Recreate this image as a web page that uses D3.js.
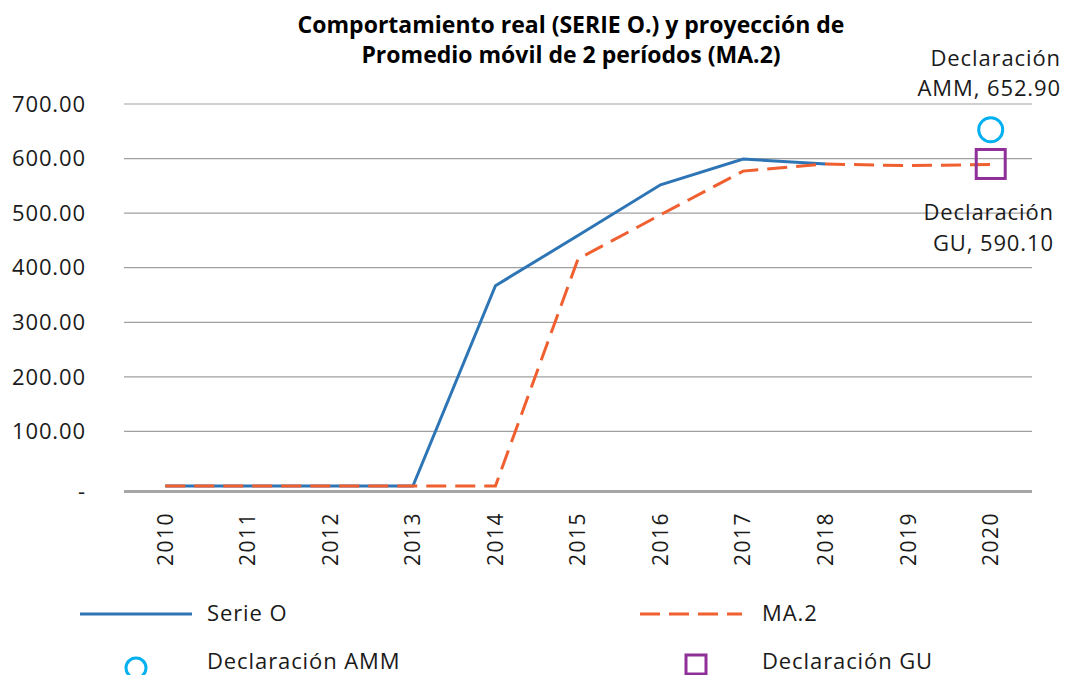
<!DOCTYPE html>
<html>
<head>
<meta charset="utf-8">
<script src="https://cdn.jsdelivr.net/npm/d3@7"></script>
<style>
  body { margin: 0; background: #fff; }
  svg { font-family: "Open Sans", "Noto Sans", sans-serif; }
</style>
</head>
<body>
<svg width="1065" height="675"></svg>
<script>
// data
const years = ["2010", "2011", "2012", "2013", "2014", "2015", "2016", "2017", "2018", "2019", "2020"];
const serieO = [0, 0, 0, 0, 367, 459, 552, 599, 590, null, null];
const ma2 = [0, 0, 0, 0, 0, 416, 497, 577, 590, 587, 589];
const yTicks = [0, 100, 200, 300, 400, 500, 600, 700];
const declAMM = { year: "2020", value: 652.90 };
const declGU = { year: "2020", value: 590.10 };

const blue = "#2E75B6", orange = "#F05F2F", cyan = "#00B0F0", purple = "#8F2F98";
const fs = "22px", ls = "0.9px";

const svg = d3.select("svg");

// scales
const x = d3.scaleBand().domain(years).range([124, 1032]);
const y = d3.scaleLinear().domain([0, 700]).range([486, 104]);
const cx = d => x(d) + x.bandwidth() / 2;

// title
svg.append("text")
    .attr("x", 571).attr("y", 33)
    .attr("text-anchor", "middle")
    .style("font-size", "23px").style("font-weight", "bold")
    .text("Comportamiento real (SERIE O.) y proyección de");
svg.append("text")
    .attr("x", 571).attr("y", 63)
    .attr("text-anchor", "middle")
    .style("font-size", "23px").style("font-weight", "bold")
    .text("Promedio móvil de 2 períodos (MA.2)");

// gridlines
svg.append("g")
    .selectAll("line")
    .data(yTicks.filter(d => d > 0))
  .enter().append("line")
    .attr("x1", 124).attr("x2", 1032)
    .attr("y1", d => y(d)).attr("y2", d => y(d))
    .attr("stroke", "#A0A0A0").attr("stroke-width", 1.2);

// x axis line (slightly below zero)
svg.append("line")
    .attr("x1", 124).attr("x2", 1032)
    .attr("y1", y(0) + 5.5).attr("y2", y(0) + 5.5)
    .attr("stroke", "#A6A6A6").attr("stroke-width", 3);

// y labels
svg.append("g")
    .selectAll("text")
    .data(yTicks)
  .enter().append("text")
    .attr("x", 86)
    .attr("y", d => d === 0 ? y(0) + 5 : y(d))
    .attr("dy", "0.35em")
    .attr("text-anchor", "end")
    .style("font-size", fs).style("letter-spacing", ls)
    .attr("fill", "#1a1a1a")
    .text(d => d === 0 ? "-" : d3.format(".2f")(d));

// x labels, rotated
svg.append("g")
    .selectAll("text")
    .data(years)
  .enter().append("text")
    .attr("transform", d => `translate(${cx(d)},512)rotate(-90)`)
    .attr("text-anchor", "end")
    .attr("dy", "0.35em")
    .style("font-size", "21px")
    .style("letter-spacing", "1.5px")
    .attr("fill", "#1a1a1a")
    .text(d => d);

// lines
const line = d3.line()
    .defined(d => d.v !== null)
    .x(d => cx(d.year))
    .y(d => y(d.v));

svg.append("path")
    .datum(years.map((yr, i) => ({ year: yr, v: serieO[i] })))
    .attr("d", line)
    .attr("fill", "none")
    .attr("stroke", blue).attr("stroke-width", 3);

svg.append("path")
    .datum(years.map((yr, i) => ({ year: yr, v: ma2[i] })))
    .attr("d", line)
    .attr("fill", "none")
    .attr("stroke", orange).attr("stroke-width", 3)
    .attr("stroke-dasharray", "20,9");

// declaration markers
svg.append("circle")
    .attr("cx", cx(declAMM.year)).attr("cy", y(declAMM.value))
    .attr("r", 12)
    .attr("fill", "none").attr("stroke", cyan).attr("stroke-width", 3);

svg.append("rect")
    .attr("x", cx(declGU.year) - 14.5).attr("y", y(declGU.value) - 14.5)
    .attr("width", 29).attr("height", 29)
    .attr("fill", "none").attr("stroke", purple).attr("stroke-width", 3);

// marker labels
const amm = svg.append("text")
    .attr("text-anchor", "end")
    .style("font-size", fs).style("letter-spacing", ls).attr("fill", "#1a1a1a");
amm.append("tspan").attr("x", 1061).attr("y", 66).text("Declaración");
amm.append("tspan").attr("x", 1061).attr("y", 96).text("AMM, " + d3.format(".2f")(declAMM.value));

const gu = svg.append("text")
    .attr("text-anchor", "end")
    .style("font-size", fs).style("letter-spacing", ls).attr("fill", "#1a1a1a");
gu.append("tspan").attr("x", 1054).attr("y", 220).text("Declaración");
gu.append("tspan").attr("x", 1054).attr("y", 251).text("GU, " + d3.format(".2f")(declGU.value));

// legend
const leg = svg.append("g")
    .style("font-size", fs).style("letter-spacing", ls).attr("fill", "#1a1a1a");

leg.append("line")
    .attr("x1", 80).attr("x2", 192).attr("y1", 614).attr("y2", 614)
    .attr("stroke", blue).attr("stroke-width", 3);
leg.append("text").attr("x", 207).attr("y", 621).text("Serie O");

leg.append("line")
    .attr("x1", 640).attr("x2", 742).attr("y1", 614).attr("y2", 614)
    .attr("stroke", orange).attr("stroke-width", 3)
    .attr("stroke-dasharray", "20,9");
leg.append("text").attr("x", 762).attr("y", 621).text("MA.2");

leg.append("circle")
    .attr("cx", 136).attr("cy", 668).attr("r", 10)
    .attr("fill", "none").attr("stroke", cyan).attr("stroke-width", 3);
leg.append("text").attr("x", 207).attr("y", 669).text("Declaración AMM");

leg.append("rect")
    .attr("x", 686).attr("y", 655).attr("width", 20).attr("height", 19)
    .attr("fill", "none").attr("stroke", purple).attr("stroke-width", 3);
leg.append("text").attr("x", 762).attr("y", 669).text("Declaración GU");
</script>
</body>
</html>
